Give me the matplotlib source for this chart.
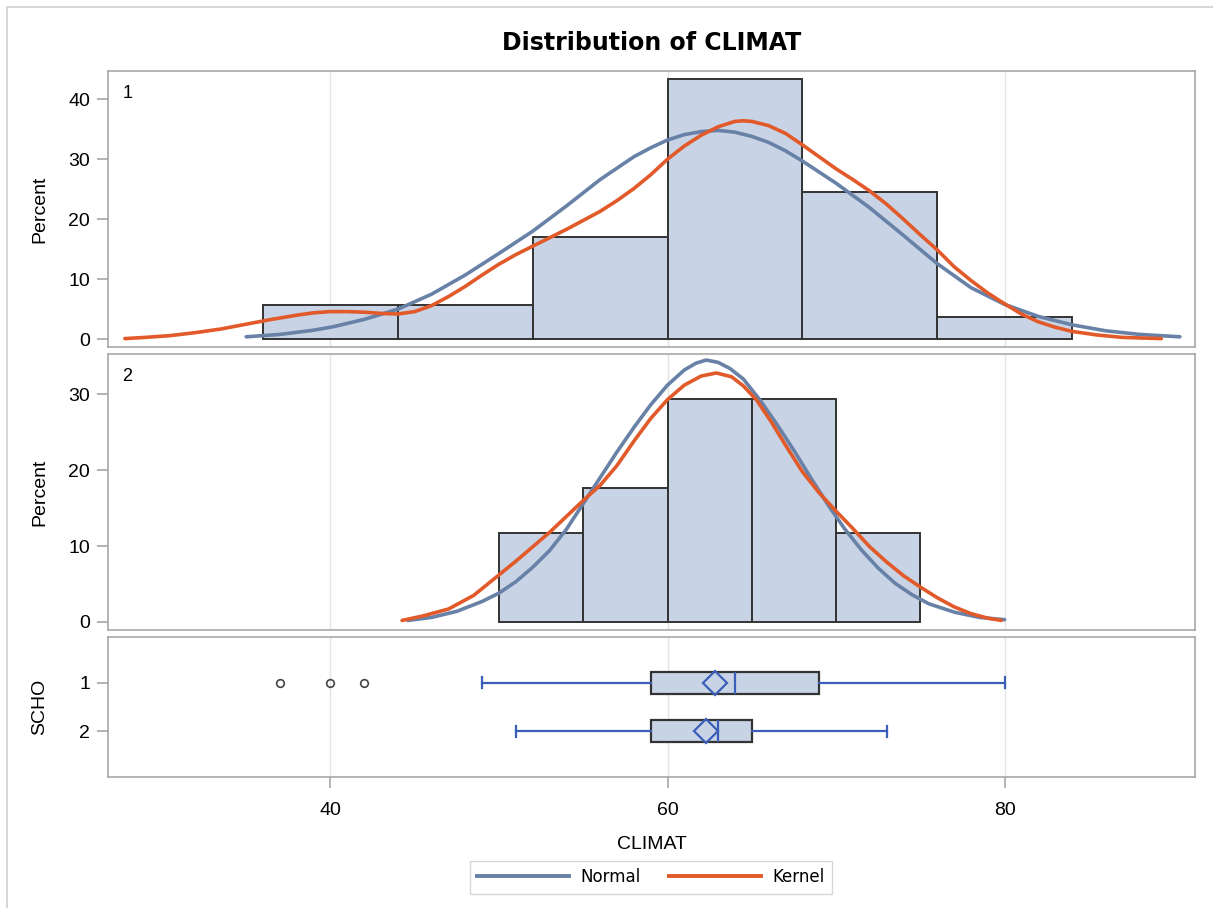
import matplotlib
matplotlib.use("Agg")
import matplotlib.pyplot as plt
from matplotlib.lines import Line2D
from matplotlib.patches import Rectangle

plt.rcParams['font.family'] = ['Liberation Sans', 'DejaVu Sans']

# histogram data (percent per bin)
g1_edges = [36, 44, 52, 60, 68, 76, 84]
g1_pct = [5.66, 5.66, 16.98, 43.40, 24.53, 3.77]
g2_edges = [50, 55, 60, 65, 70, 75]
g2_pct = [11.76, 17.65, 29.41, 29.41, 11.76]

# fitted curves
g1_norm_x = [35, 37, 39, 40.2, 42, 44, 46, 48, 50, 52, 54, 56, 58, 59, 60, 61, 62, 63, 64,
             65, 66, 67, 68, 70, 72, 74, 76, 78, 80, 82, 84, 86, 88, 90.4]
g1_norm_y = [0.4, 0.8, 1.5, 2.1, 3.3, 5.0, 7.5, 10.7, 14.3, 18.0, 22.2, 26.6, 30.4, 31.9,
             33.2, 34.1, 34.6, 34.8, 34.5, 33.8, 32.8, 31.4, 29.7, 26.0, 21.9, 17.3, 12.6,
             8.6, 5.8, 3.8, 2.4, 1.4, 0.8, 0.4]
g1_kern_x = [27.8, 29, 30.5, 32, 33.5, 35, 36.5, 38, 39, 40, 41, 42, 43, 44, 45, 46, 47, 48,
             49, 50, 51, 52, 53, 54, 55, 56, 57, 58, 59, 60, 61, 62, 63, 64, 64.5, 65, 66,
             67, 68, 69, 70, 71, 72, 73, 74, 75, 76, 77, 78, 79, 80, 81, 82, 83, 84, 85.5,
             87, 89.3]
g1_kern_y = [0.1, 0.3, 0.6, 1.1, 1.7, 2.5, 3.3, 4.0, 4.4, 4.6, 4.6, 4.5, 4.3, 4.2, 4.6,
             5.6, 7.1, 8.8, 10.7, 12.5, 14.1, 15.5, 16.9, 18.3, 19.8, 21.3, 23.1, 25.1,
             27.4, 30.0, 32.2, 34.0, 35.4, 36.3, 36.4, 36.3, 35.6, 34.3, 32.4, 30.4, 28.4,
             26.6, 24.7, 22.5, 20.0, 17.4, 14.9, 12.1, 9.8, 7.7, 5.9, 4.2, 2.9, 2.0, 1.3,
             0.7, 0.3, 0.1]
g2_norm_x = [44.6, 46, 47.5, 49, 50, 51, 52, 53, 54, 55, 56, 57, 58, 59, 60, 61, 61.7,
             62.3, 63, 63.7, 64.5, 65.5, 66.5, 67.5, 68.5, 69.5, 70.5, 71.5, 72.5, 73.5,
             74.5, 75.5, 77, 78.5, 80]
g2_norm_y = [0.2, 0.6, 1.4, 2.7, 3.8, 5.3, 7.2, 9.4, 12.2, 15.6, 19.0, 22.4, 25.6, 28.6,
             31.2, 33.2, 34.1, 34.5, 34.2, 33.4, 32.0, 29.2, 26.0, 22.6, 19.0, 15.5, 12.3,
             9.5, 7.1, 5.1, 3.6, 2.4, 1.3, 0.6, 0.3]
g2_kern_x = [44.25, 45.5, 47, 48.5, 50, 51, 52, 53, 54, 55, 56, 57, 58, 59, 60, 61, 62,
             62.9, 63.8, 64.5, 65.3, 66.2, 67, 68, 69, 70, 71, 72, 73, 74, 75, 76, 77, 78,
             79, 79.8]
g2_kern_y = [0.2, 0.8, 1.7, 3.5, 6.2, 8.0, 9.9, 11.8, 13.9, 16.0, 18.0, 20.6, 23.8, 26.8,
             29.3, 31.2, 32.4, 32.8, 32.3, 31.1, 29.2, 26.2, 23.3, 19.8, 17.0, 14.6, 12.3,
             9.9, 7.9, 6.1, 4.6, 3.2, 2.0, 1.1, 0.5, 0.2]

# box plot summary per SCHO group
groups = ['1', '2']
q1 = [59, 59]
med = [64, 63]
q3 = [69, 65]
means = [62.8, 62.3]
wlo = [49, 51]
whi = [80, 73]
outliers = [[37, 40, 42], []]

NORM_C = '#6881A6'
KERN_C = '#E2592A'
FILL_C = '#C8D4E5'
EDGE_C = '#333333'
FRAME_C = '#A8A8A8'
BOX_C = '#3B5FB8'
XLIM = (26.8, 91.3)
LAB_FS = 14

fig = plt.figure(figsize=(12.13, 9.08), dpi=100)
L, W = 108 / 1213, 1087 / 1213
ax1 = fig.add_axes([L, 1 - 347 / 908, W, 276 / 908])
ax2 = fig.add_axes([L, 1 - 630 / 908, W, 276 / 908])
ax3 = fig.add_axes([L, 1 - 777 / 908, W, 140 / 908])


def style(ax):
    ax.set_xlim(*XLIM)
    ax.set_xticks([40, 60, 80])
    ax.grid(axis='x', color='#E3E3E3', lw=1)
    ax.set_axisbelow(True)
    for s in ax.spines.values():
        s.set_color(FRAME_C)
        s.set_linewidth(1.2)
    ax.tick_params(colors=FRAME_C, labelcolor='black', labelsize=14, length=8, width=1.2)
    ax.tick_params(axis='y', pad=5)


def hist_panel(ax, edges, pct, nx, ny, kx, ky, label, yl, yticks):
    style(ax)
    ax.bar(edges[:-1], pct, width=[edges[i + 1] - edges[i] for i in range(len(pct))],
           align='edge', color=FILL_C, edgecolor=EDGE_C, lw=1.4, zorder=2)
    ax.plot(nx, ny, color=NORM_C, lw=2.6, zorder=3, solid_capstyle='round',
            solid_joinstyle='round')
    ax.plot(kx, ky, color=KERN_C, lw=2.6, zorder=4, solid_capstyle='round',
            solid_joinstyle='round')
    ax.set_ylim(*yl)
    ax.set_yticks(yticks)
    ax.tick_params(axis='x', bottom=False, labelbottom=False)
    ax.set_ylabel('Percent', fontsize=LAB_FS)
    ax.text(0.013, 0.95, label, transform=ax.transAxes, fontsize=13, va='top')


hist_panel(ax1, g1_edges, g1_pct, g1_norm_x, g1_norm_y, g1_kern_x, g1_kern_y,
           '1', (-1.3, 44.7), [0, 10, 20, 30, 40])
hist_panel(ax2, g2_edges, g2_pct, g2_norm_x, g2_norm_y, g2_kern_x, g2_kern_y,
           '2', (-1.06, 35.3), [0, 10, 20, 30])

# box plot
style(ax3)
stats = []
for i in range(len(groups)):
    stats.append(dict(med=med[i], q1=q1[i], q3=q3[i], whislo=wlo[i], whishi=whi[i],
                      mean=means[i], fliers=outliers[i], label=groups[i]))
ax3.bxp(stats, positions=[1, 2], vert=False, widths=0.45, patch_artist=True,
        showmeans=True, meanline=False,
        boxprops=dict(facecolor=FILL_C, edgecolor=EDGE_C, lw=1.6),
        medianprops=dict(color=BOX_C, lw=1.6),
        whiskerprops=dict(color=BOX_C, lw=1.6),
        capprops=dict(color=BOX_C, lw=1.6),
        meanprops=dict(marker='D', markersize=12, markerfacecolor='none',
                       markeredgecolor=BOX_C, markeredgewidth=1.6),
        flierprops=dict(marker='o', markersize=5.5, markerfacecolor='none',
                        markeredgecolor='#444444', markeredgewidth=1.2))
ax3.set_ylim(2.94, 0.06)
ax3.set_yticks([1, 2])
ax3.set_yticklabels(groups)
ax3.set_ylabel('SCHO', fontsize=LAB_FS)
ax3.set_xlabel('CLIMAT', fontsize=LAB_FS, labelpad=12)
ax3.tick_params(axis='x', pad=10)

ax1.set_title('Distribution of CLIMAT', fontsize=17, fontweight='bold', pad=15,
              family='DejaVu Sans')

for ax in (ax1, ax2, ax3):
    ax.yaxis.set_label_coords(-0.055, 0.5)

handles = [Line2D([], [], color=NORM_C, lw=2.8), Line2D([], [], color=KERN_C, lw=2.8)]
fig.legend(handles, ['Normal', 'Kernel'], loc='center', bbox_to_anchor=(651 / 1213, 1 - 877 / 908),
           ncol=2, frameon=True, fancybox=False, edgecolor='#CCCCCC',
           prop=dict(family='DejaVu Sans', size=12),
           handlelength=5.5, handletextpad=0.7, columnspacing=1.7, borderpad=0.45,
           borderaxespad=0)

fig.patches.append(Rectangle((7 / 1213, -0.1), 1.2, 1 - 7 / 908 + 0.1, transform=fig.transFigure,
                             fill=False, edgecolor='#D0D0D0', lw=1.2))

fig.savefig('out.png', dpi=100)
